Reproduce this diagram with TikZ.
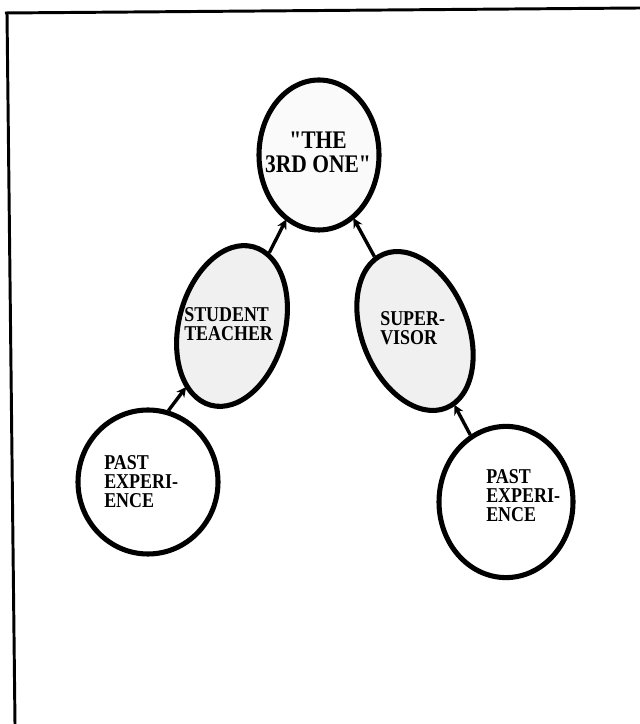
\documentclass[tikz,border=0pt]{standalone}
\usepackage{fontspec}
\usepackage{tikz}
\usetikzlibrary{positioning,calc,shapes.geometric,arrows.meta}
\newfontfamily\labelfont[FakeStretch=0.85]{Liberation Serif Bold}
\definecolor{stipple}{HTML}{F0F0F0}

\begin{document}
\begin{tikzpicture}[
    bubble/.style={ellipse, draw=black, line width=3.6pt, inner sep=0pt},
    shaded/.style={bubble, fill=stipple},
    tag/.style={align=left, inner sep=0pt, font=\labelfont\fontsize{15}{13.5}\selectfont},
    arrowline/.style={-{Stealth[length=7pt,width=7pt]}, line width=2.4pt, shorten >=-1pt}
  ]
    \useasboundingbox (0,0) rectangle (16,18.1);

    % Frame (top and left edge only)
    \draw[line width=2.1pt] (0.125,17.775) -- (16,17.9);
    \draw[line width=2.1pt] (0.175,17.775) -- (0.375,0);

    % Top bubble
    \node (third) at (7.975,14.225) [bubble, fill=black!2, minimum width=3.0cm, minimum height=3.75cm] {};
    \node (thirdtxt) at (7.95,14.3) [tag, align=center, font=\labelfont\fontsize{18}{17}\selectfont] {"THE\\3RD ONE"};

    % Middle bubbles
    \node (student) at (5.8,9.95) [shaded, rotate=-15, minimum width=2.65cm, minimum height=4.1cm] {};
    \node (studenttxt) at (4.6,10.0) [tag, anchor=west] {STUDENT\\TEACHER};

    \node (super) at (10.375,9.825) [shaded, rotate=22, minimum width=2.65cm, minimum height=4.15cm] {};
    \node (supertxt) at (9.5,9.9) [tag, anchor=west] {SUPER-\\VISOR};

    % Bottom bubbles
    \node (pastL) at (3.7,6.05) [bubble, minimum width=3.5cm, minimum height=3.6cm] {};
    \node (pastLtxt) at (2.6,6.05) [tag, anchor=west] {PAST\\EXPERI-\\ENCE};

    \node (pastR) at (12.65,5.55) [bubble, minimum width=3.35cm, minimum height=3.78cm] {};
    \node (pastRtxt) at (12.15,5.72) [tag, anchor=west] {PAST\\EXPERI-\\ENCE};

    % Connectors
    \draw[arrowline] (student) -- (third);
    \draw[arrowline] (super) -- (third);
    \draw[arrowline] (pastL.74) -- (student);
    \draw[arrowline] (pastR) -- (super);
  \end{tikzpicture}
\end{document}
